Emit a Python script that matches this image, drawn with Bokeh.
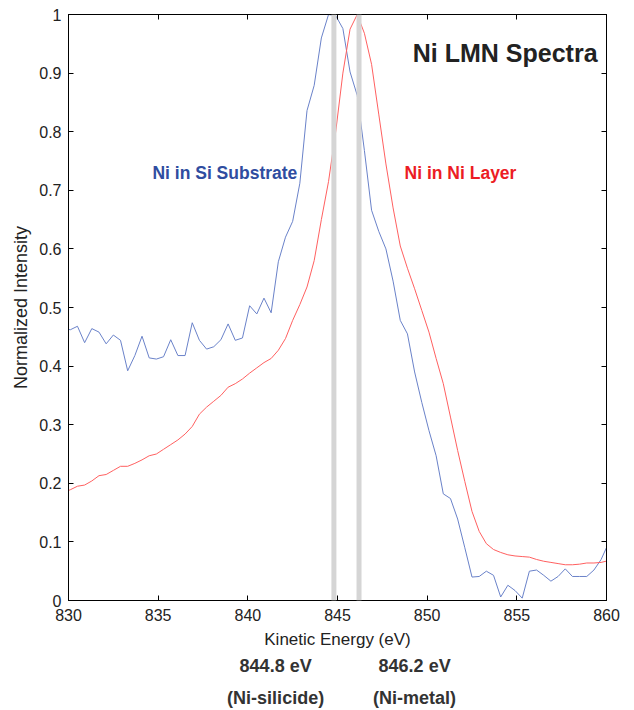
from bokeh.plotting import figure
from bokeh.layouts import column
from bokeh.models import Label, Span, LinearAxis, FixedTicker, CustomJSTickFormatter, Range1d
from bokeh.embed import file_html
from bokeh.resources import INLINE

# ---- data ----
energy = [829.7, 830.1, 830.5, 830.9, 831.3, 831.7, 832.1, 832.5, 832.9, 833.3,
          833.7, 834.1, 834.5, 834.9, 835.3, 835.7, 836.1, 836.5, 836.9, 837.3,
          837.7, 838.1, 838.5, 838.9, 839.3, 839.7, 840.1, 840.5, 840.9, 841.3,
          841.7, 842.1, 842.5, 842.9, 843.3, 843.7, 844.1, 844.5, 844.9, 845.3,
          845.7, 846.1, 846.5, 846.9, 847.3, 847.7, 848.1, 848.5, 848.9, 849.3,
          849.7, 850.1, 850.5, 850.9, 851.3, 851.7, 852.1, 852.5, 852.9, 853.3,
          853.7, 854.1, 854.5, 854.9, 855.3, 855.7, 856.1, 856.5, 856.9, 857.3,
          857.7, 858.1, 858.5, 858.9, 859.3, 859.7, 860.1]

ni_in_si = [0.465, 0.462, 0.468, 0.440, 0.464, 0.458, 0.438, 0.453, 0.444, 0.392,
            0.418, 0.451, 0.414, 0.412, 0.416, 0.445, 0.418, 0.418, 0.474, 0.444,
            0.429, 0.433, 0.445, 0.472, 0.444, 0.448, 0.503, 0.489, 0.516, 0.491,
            0.578, 0.620, 0.647, 0.712, 0.836, 0.879, 0.960, 1.000, 0.998, 0.976,
            0.902, 0.862, 0.768, 0.666, 0.630, 0.600, 0.545, 0.478, 0.455, 0.390,
            0.338, 0.290, 0.247, 0.182, 0.174, 0.139, 0.090, 0.040, 0.041, 0.050,
            0.043, 0.006, 0.026, 0.017, 0.004, 0.050, 0.052, 0.043, 0.033, 0.041,
            0.054, 0.041, 0.041, 0.041, 0.052, 0.070, 0.097]

ni_in_ni = [0.184, 0.189, 0.195, 0.197, 0.204, 0.213, 0.215, 0.222, 0.229, 0.229,
            0.234, 0.240, 0.247, 0.250, 0.258, 0.266, 0.274, 0.284, 0.297, 0.318,
            0.330, 0.340, 0.350, 0.364, 0.370, 0.378, 0.388, 0.397, 0.406, 0.413,
            0.427, 0.447, 0.478, 0.505, 0.535, 0.580, 0.650, 0.715, 0.800, 0.900,
            0.975, 1.000, 0.968, 0.915, 0.830, 0.745, 0.670, 0.605, 0.567, 0.532,
            0.495, 0.458, 0.413, 0.370, 0.313, 0.256, 0.203, 0.152, 0.118, 0.097,
            0.087, 0.082, 0.078, 0.076, 0.075, 0.074, 0.070, 0.067, 0.065, 0.063,
            0.061, 0.061, 0.062, 0.064, 0.064, 0.065, 0.068]

peak_energies = [844.8, 846.2]
peak_values = ["844.8 eV", "846.2 eV"]
peak_names = ["(Ni-silicide)", "(Ni-metal)"]

x_ticks = [830, 835, 840, 845, 850, 855, 860]
y_ticks = [0, 0.1, 0.2, 0.3, 0.4, 0.5, 0.6, 0.7, 0.8, 0.9, 1]

title_text = "Ni LMN Spectra"
series_names = ["Ni in Si Substrate", "Ni in Ni Layer"]

FONT = "Liberation Sans"
BORDER_L, BORDER_R = 68, 20

p = figure(frame_width=538, frame_height=586,
           x_range=Range1d(830, 860), y_range=Range1d(0, 1),
           output_backend="svg", toolbar_location=None,
           min_border_left=BORDER_L, min_border_right=BORDER_R,
           min_border_top=14, min_border_bottom=52,
           x_axis_label="Kinetic Energy (eV)", y_axis_label="Normalized Intensity")
p.grid.visible = False
p.outline_line_color = "black"
p.outline_line_width = 1
p.background_fill_color = "white"
p.border_fill_color = "white"

p.xaxis.ticker = FixedTicker(ticks=x_ticks)
p.yaxis.ticker = FixedTicker(ticks=y_ticks)
p.yaxis.formatter = CustomJSTickFormatter(code="return tick.toFixed(1).replace(/\\.0$/, '');")

for ax in [p.xaxis[0], p.yaxis[0]]:
    ax.major_tick_in = 5
    ax.major_tick_out = 0
    ax.minor_tick_line_color = None
    ax.axis_line_color = "black"
    ax.major_tick_line_color = "black"
    ax.major_label_text_font = FONT
    ax.major_label_text_font_size = "16px"
    ax.major_label_text_color = "#222222"
    ax.axis_label_text_font = FONT
    ax.axis_label_text_font_style = "normal"
    ax.axis_label_text_color = "#222222"

p.xaxis.major_label_standoff = 8
p.xaxis.axis_label_standoff = 6
p.xaxis.axis_label_text_font_size = "17px"
p.yaxis.major_label_standoff = 7
p.yaxis.axis_label_standoff = 5
p.yaxis.axis_label_text_font_size = "18px"

# mirrored tick marks on the top and right edges (no labels)
for loc, ticks in [("above", x_ticks), ("right", y_ticks)]:
    ax = LinearAxis(ticker=FixedTicker(ticks=ticks), major_tick_in=5, major_tick_out=0,
                    minor_tick_line_color=None, major_label_text_font_size="1px",
                    major_label_text_color=None, major_label_standoff=0,
                    axis_line_color="black", major_tick_line_color="black")
    p.add_layout(ax, loc)

# spectra
p.line(energy, ni_in_si, line_color="#6a82c9", line_width=1)
p.line(energy, ni_in_ni, line_color="#ff6060", line_width=1)

# peak marker bars
for e in peak_energies:
    p.add_layout(Span(location=e, dimension="height", line_color="#d5d5d5", line_width=5))

# texts
p.add_layout(Label(x=859.5, y=0.935, text=title_text, text_align="right", text_baseline="middle",
                   text_font=FONT, text_font_size="25px", text_font_style="bold", text_color="#222222"))
p.add_layout(Label(x=834.68, y=0.729, text=series_names[0], text_align="left", text_baseline="middle",
                   text_font=FONT, text_font_size="17.5px", text_font_style="bold", text_color="#2f4da0"))
p.add_layout(Label(x=848.74, y=0.729, text=series_names[1], text_align="left", text_baseline="middle",
                   text_font=FONT, text_font_size="17.5px", text_font_style="bold", text_color="#ec1c24"))

# caption strip below the chart, sharing the energy axis
p2 = figure(frame_width=538, frame_height=56, x_range=p.x_range, y_range=Range1d(0, 56),
            output_backend="svg", toolbar_location=None,
            min_border_left=BORDER_L, min_border_right=BORDER_R,
            min_border_top=0, min_border_bottom=0,
            x_axis_location=None, y_axis_location=None)
p2.grid.visible = False
p2.outline_line_color = None
p2.background_fill_color = "white"
p2.border_fill_color = "white"

label_x = [841.55, 849.3]
for lx, v, n in zip(label_x, peak_values, peak_names):
    p2.add_layout(Label(x=lx, y=43, text=v, text_align="center", text_baseline="middle",
                        text_font=FONT, text_font_size="18px", text_font_style="bold", text_color="#333333"))
    p2.add_layout(Label(x=lx, y=11, text=n, text_align="center", text_baseline="middle",
                        text_font=FONT, text_font_size="18px", text_font_style="bold", text_color="#333333"))

layout = column(p, p2, spacing=0)
open("out.html", "w").write(file_html(layout, INLINE))
